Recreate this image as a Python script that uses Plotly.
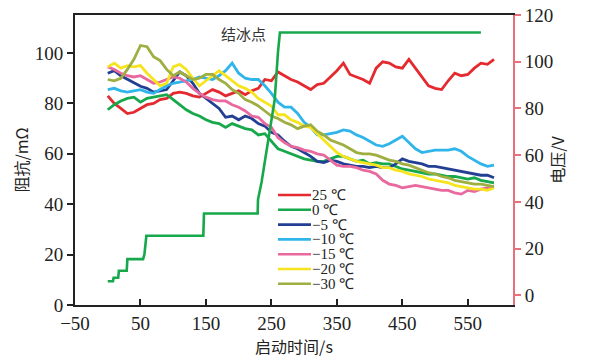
import plotly.graph_objects as go

# ---------------- data ----------------
t = list(range(0, 600, 10))  # time, s

r_25 = [83, 80, 78, 76, 76.5, 78, 79.5, 80, 81.5, 82, 84, 84.5, 84, 83, 82.5, 84, 85.5, 84.5, 83, 84,
        85, 83.5, 85, 86, 89.5, 89, 92.5, 91, 89.5, 88.5, 87, 85.5, 87.5, 88, 90.5, 93, 96, 91.5, 90.5, 89.5,
        88, 94, 96.5, 96, 94.5, 94, 97.5, 94, 90.5, 87, 86, 85.5, 89, 92, 91, 91.5, 94, 96, 95.5, 97.5]
r_0 = [77.5, 79.5, 81, 82, 82.5, 80.5, 82, 82.5, 83, 83.5, 81.5, 79.5, 77.5, 76, 75, 73.5, 72.5, 72, 70.5, 72,
       71, 70, 69.5, 67.5, 68, 65, 62, 61, 60, 59, 58, 57.5, 57, 57, 58, 59, 59, 58, 57, 57.5,
       56, 56.5, 56, 56, 55, 54, 53.5, 53, 52.5, 52, 52, 51.5, 51, 51, 50.5, 50, 50.5, 49.5, 49, 48.5]
r_m5 = [92, 93, 91, 89.5, 88, 86.8, 86, 84.5, 85, 85.5, 89, 92.5, 91, 88, 84, 82, 80, 78, 74.5, 75,
        73.5, 75, 74, 72, 71, 68.5, 67.5, 65, 63, 62, 60.5, 59, 57, 56.5, 57.5, 57, 56, 55.5, 55, 55,
        54.5, 55, 54.5, 54.5, 56, 58, 57, 56.5, 56, 55, 55, 54.5, 54, 53.5, 53, 52.5, 52, 51.5, 51.5, 50.5]
r_m10 = [85.5, 86, 85, 84.5, 85, 85.5, 84.5, 84, 85.5, 87, 88, 88.5, 89, 89.5, 90.5, 90, 89.5, 91, 93, 96,
         92, 90, 89.5, 89.5, 87, 84, 80.5, 78.5, 78.5, 76, 72.5, 70.5, 67.5, 67.5, 68, 68.5, 69.5, 69, 67.5, 66.5,
         65, 63.5, 63, 64, 65.5, 67, 64.5, 62, 60.5, 61, 61.5, 61.5, 61.5, 62, 61, 59, 57.5, 56, 55, 55.5]
r_m15 = [94.5, 93.5, 92, 91, 90.5, 91, 89.5, 88, 88.5, 89.5, 90.5, 90, 88.5, 86, 84, 82.5, 81.5, 81, 81, 79.5,
         78.5, 77, 75, 74.5, 72, 70.5, 66.5, 64.5, 63, 62.5, 61.5, 61, 60, 59.5, 57.5, 55.5, 55, 55, 54.5, 53.5,
         53, 52, 49.5, 48, 47.5, 46.5, 47, 47.5, 47, 46.5, 46, 45.5, 45.5, 44.5, 44, 45.5, 45, 46, 46.5, 47]
r_m20 = [94.5, 96, 94, 95, 94.5, 95, 92, 89.5, 87, 88, 94.5, 95.5, 93.5, 90, 87, 89, 91, 93, 91, 89,
         87, 86, 84.5, 82, 80.5, 79, 75.5, 75.5, 73.5, 72.5, 71, 70.5, 68, 65.5, 63, 60.5, 59, 58, 57, 56.5,
         56, 55.5, 54.5, 54.5, 53.5, 53, 52, 51.5, 51, 50, 49.5, 49, 48.5, 47.5, 47, 46.5, 46, 46, 45.5, 46.5]
r_m30 = [89.5, 89, 90, 93.5, 97.5, 103, 102.5, 98.5, 97, 93.5, 91, 92.5, 91, 89.5, 90, 91.5, 91.5, 89.5, 88, 85.5,
         84, 81.5, 80.5, 79, 77, 75, 74, 72.5, 71.5, 70, 71, 71.5, 69, 67.5, 65.5, 64.5, 63.5, 62, 60.5, 60,
         60, 59.5, 58.5, 57.5, 57, 56, 55.5, 54.5, 53.5, 52.5, 52, 51, 50.5, 49.5, 49, 48.5, 48, 48, 47.5, 47]

# voltage (step curve, right axis)
v_t = [0, 8, 9, 16, 17, 29, 30, 54, 56, 59, 146, 147, 229, 229.5, 235, 245, 255, 260, 263, 570]
v_v = [6, 6, 7.5, 7.5, 10.5, 10.5, 15.5, 15.5, 17.5, 25.5, 25.5, 35, 35, 41, 48.5, 66.5, 83.7, 104, 112.5, 112.5]

series_names = ["25 ℃", "0 ℃", "−5 ℃", "−10 ℃", "−15 ℃", "−20 ℃", "−30 ℃"]
series_vals = [r_25, r_0, r_m5, r_m10, r_m15, r_m20, r_m30]
colors = ["#e52a2f", "#17a84b", "#233f94", "#2fb5ea", "#e9699f", "#f5e41e", "#9fae40"]

x_ticks = [-50, 50, 150, 250, 350, 450, 550]
y_ticks = [0, 20, 40, 60, 80, 100]
y2_ticks = [0, 20, 40, 60, 80, 100, 120]

# ---------------- figure ----------------
fig = go.Figure()
for name, vals, col in zip(series_names, series_vals, colors):
    fig.add_trace(go.Scatter(x=t, y=vals, mode="lines", name=name,
                             line=dict(color=col, width=2.8), showlegend=False))

fig.add_trace(go.Scatter(x=v_t, y=v_v, mode="lines", name="电压", yaxis="y2",
                         line=dict(color=colors[1], width=2.6), showlegend=False))

serif = "Liberation Serif"
cjk = "Noto Sans CJK SC"

# custom legend
L, R, T, B = 75, 513, 15, 305
def px2paper(px, py):
    return (px - L) / (R - L), (B - py) / (B - T)

shapes = []
annotations = []
for i, (name, col) in enumerate(zip(series_names, colors)):
    py = 195 + 14.8 * i
    x0, y0 = px2paper(278, py)
    x1, _ = px2paper(311, py)
    shapes.append(dict(type="line", xref="paper", yref="paper", x0=x0, x1=x1, y0=y0, y1=y0,
                       line=dict(color=col, width=2.6)))
    xt, _ = px2paper(311, py)
    annotations.append(dict(xref="paper", yref="paper", x=xt, y=y0, text=name, showarrow=False,
                            xanchor="left", yanchor="middle", borderpad=0,
                            font=dict(family=serif, size=15, color="#222")))

ax, ay = px2paper(243, 33)
annotations.append(dict(xref="paper", yref="paper", x=ax, y=ay, text="结冰点", showarrow=False,
                        xanchor="center", yanchor="middle",
                        font=dict(family=cjk, size=15, color="#333")))

fig.update_layout(
    template="none",
    width=600, height=364,
    margin=dict(l=L, r=600 - R, t=T, b=364 - B, autoexpand=False),
    plot_bgcolor="white", paper_bgcolor="white",
    showlegend=False,
    shapes=shapes, annotations=annotations,
    xaxis=dict(range=[-50, 619], tickvals=x_ticks, ticks="inside", ticklen=6, tickwidth=2,
               tickcolor="#222", showline=True, linecolor="#222", linewidth=2, mirror=True,
               showgrid=False, zeroline=False, automargin=False,
               tickfont=dict(family=serif, size=19, color="#222"),
               title=dict(text="启动时间/s", font=dict(family=cjk, size=16, color="#222"), standoff=2)),
    yaxis=dict(range=[0, 115.1], tickvals=y_ticks, ticks="outside", ticklen=6, tickwidth=2,
               tickcolor="#222", showline=True, linecolor="#222", linewidth=2,
               showgrid=False, zeroline=False, automargin=False,
               tickfont=dict(family=serif, size=19, color="#222"),
               title=dict(text="阻抗/mΩ", font=dict(family=cjk, size=16, color="#222"), standoff=2)),
    yaxis2=dict(range=[-4.15, 120], tickvals=y2_ticks, overlaying="y", side="right",
                ticks="outside", ticklen=6, tickwidth=2, tickcolor="#e8707c",
                showline=True, linecolor="#e8707c", linewidth=2,
                showgrid=False, zeroline=False, automargin=False,
                tickfont=dict(family=serif, size=19, color="#222"),
                title=dict(text="电压/V", font=dict(family=cjk, size=16, color="#222"), standoff=1)),
)

fig.write_html("out.html", config={"displayModeBar": False},
               post_script="document.body.style.margin='0';document.body.style.padding='0';")
